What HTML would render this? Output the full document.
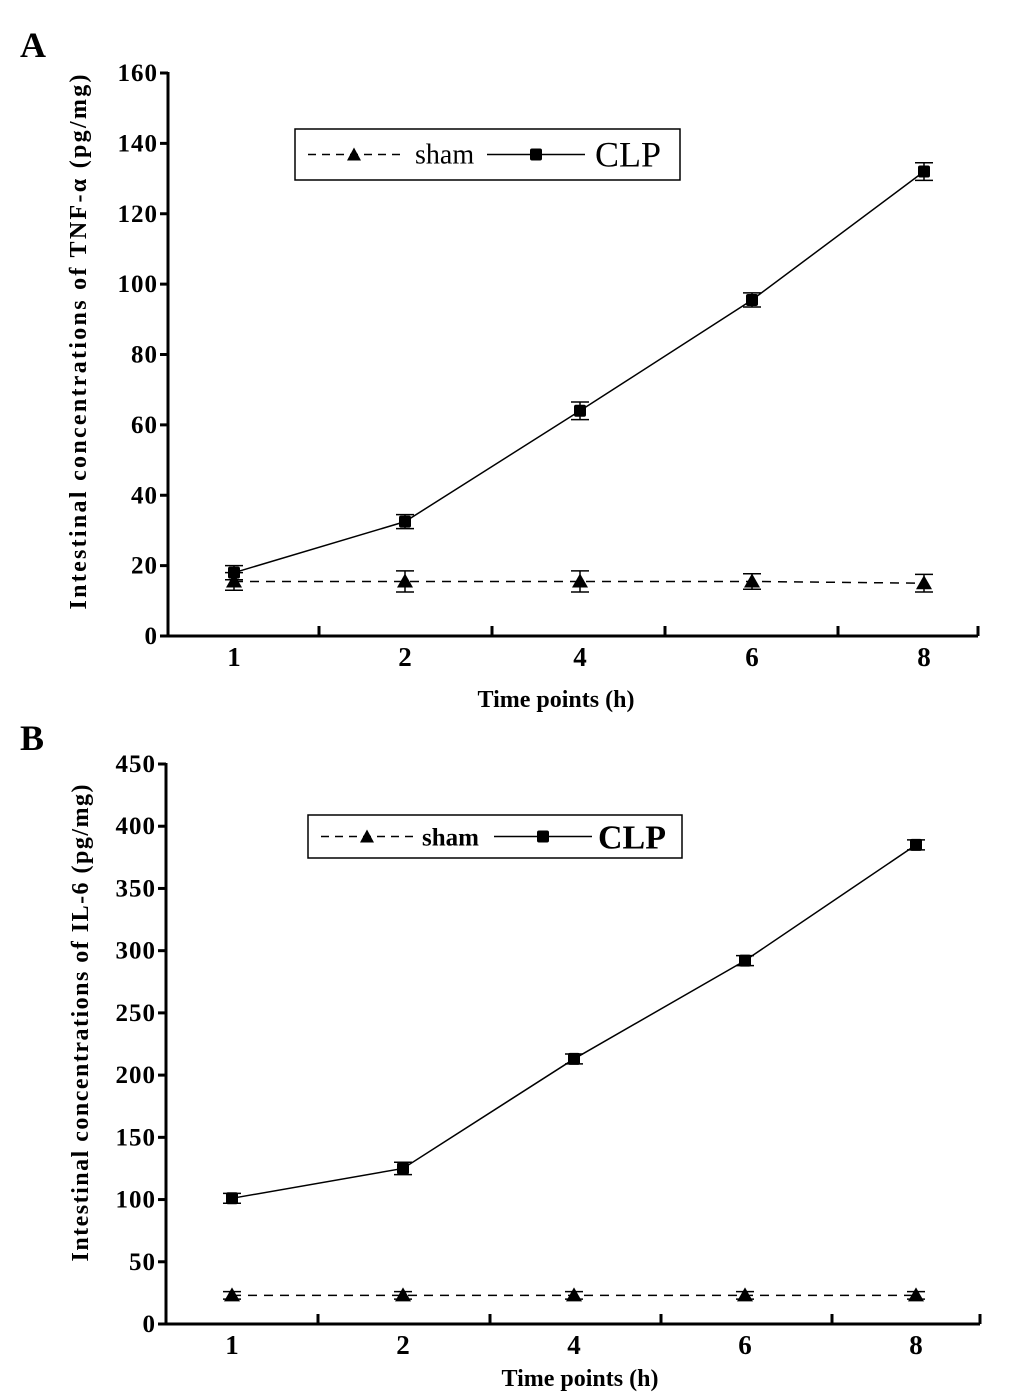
<!DOCTYPE html>
<html><head><meta charset="utf-8"><style>
html,body{margin:0;padding:0;background:#fff;}
svg{display:block;font-family:"Liberation Serif",serif;}
</style></head><body>
<svg id="chart" width="1033" height="1392" viewBox="0 0 1033 1392" xmlns="http://www.w3.org/2000/svg"></svg>
<script>
const categories = ["1","2","4","6","8"];
const tnfClp = [18, 32.5, 64, 95.5, 132];
const tnfClpErr = [2, 2, 2.5, 2, 2.5];
const tnfSham = [15.5, 15.5, 15.5, 15.5, 15];
const tnfShamErr = [2.5, 3, 3, 2.2, 2.5];
const tnfTicks = [0,20,40,60,80,100,120,140,160];
const il6Clp = [101, 125, 213, 292, 385];
const il6ClpErr = [4, 5, 4, 4, 4];
const il6Sham = [23, 23, 23, 23, 23];
const il6ShamErr = [3, 3, 3, 3, 3];
const il6Ticks = [0,50,100,150,200,250,300,350,400,450];

const svg = document.getElementById('chart');
const NS = 'http://www.w3.org/2000/svg';
function mk(tag, attrs, parent){const e=document.createElementNS(NS,tag);for(const k in attrs)e.setAttribute(k,attrs[k]);(parent||svg).appendChild(e);return e;}

function panel(p){
  const g = mk('g',{});
  
  
  const y = v => p.y0 - (v - p.ticks[0])/(p.ticks[p.ticks.length-1]-p.ticks[0])*(p.y0-p.y1);
  const x = i => p.xs[i];
  const L = mk('text',{x:p.letterX,y:p.letterY,'font-size':36,'font-weight':'bold'},g); L.textContent=p.letter;
   
  const ya = mk('line',{x1:p.ax,y1:p.y1-1,x2:p.ax,y2:p.y0+1,stroke:'#000','stroke-width':3},g);
   
  const xa = mk('line',{x1:p.ax-1,y1:p.y0,x2:p.xEnd,y2:p.y0,stroke:'#000','stroke-width':3},g);
   
  p.ticks.forEach(t=>{
    mk('line',{x1:p.ax-8,y1:y(t),x2:p.ax,y2:y(t),stroke:'#000','stroke-width':3},g);
    const tl = mk('text',{x:p.ax-10,y:y(t)+8,'font-size':25,'font-weight':'bold','text-anchor':'end','letter-spacing':1},g);
    tl.textContent=t;
     
  });
  p.xTicks.forEach(tx=>mk('line',{x1:tx,y1:p.y0,x2:tx,y2:p.y0-10,stroke:'#000','stroke-width':3},g));
  categories.forEach((c,i)=>{
    const t = mk('text',{x:x(i),y:p.y0+30,'font-size':27,'font-weight':'bold','text-anchor':'middle'},g);
    t.textContent=c;
     
  });
  const xt = mk('text',{x:p.xTitleX,y:p.y0+p.xTitleDy,'font-size':24,'font-weight':'bold','text-anchor':'middle'},g);
  xt.textContent='Time points (h)';
   
  const yt = mk('text',{x:0,y:0,'font-size':24,'font-weight':'bold','text-anchor':'middle',textLength:p.yTitleLen,lengthAdjust:'spacing',transform:`translate(${p.yTitleX},${p.yTitleCY}) rotate(-90)`},g);
  yt.textContent=p.yTitle;
   
  function series(vals, errs, dashed, marker, name){
    const pts = vals.map((v,i)=>`${x(i)},${y(v)}`).join(' ');
    const ln = mk('polyline',{points:pts,fill:'none',stroke:'#000','stroke-width':1.5,'stroke-dasharray':dashed?'9 7':'none'},g);
     
    vals.forEach((v,i)=>{
      const e=errs[i], cx=x(i);
      mk('line',{x1:cx,y1:y(v+e),x2:cx,y2:y(v-e),stroke:'#000','stroke-width':1.5},g);
      mk('line',{x1:cx-9,y1:y(v+e),x2:cx+9,y2:y(v+e),stroke:'#000','stroke-width':1.5},g);
      mk('line',{x1:cx-9,y1:y(v-e),x2:cx+9,y2:y(v-e),stroke:'#000','stroke-width':1.5},g);
      let m;
      if(marker==='tri') m=mk('polygon',{points:`${cx},${y(v)-8} ${cx-8},${y(v)+6} ${cx+8},${y(v)+6}`,fill:'#000'},g);
      else m=mk('rect',{x:cx-6,y:y(v)-6,width:12,height:12,rx:2,fill:'#000'},g);
       
    });
  }
  series(p.sham,p.shamErr,true,'tri','sham');
  series(p.clp,p.clpErr,false,'sq','clp');
  const lg = mk('g',{},g);
   
  const b=p.leg;
  mk('rect',{x:b.x,y:b.y,width:b.w,height:b.h,fill:'#fff',stroke:'#000','stroke-width':1.5},lg);
  const cy=b.y+b.h/2;
  mk('line',{x1:b.x+13,y1:cy,x2:b.x+107,y2:cy,stroke:'#000','stroke-width':1.5,'stroke-dasharray':'8 6'},lg);
  mk('polygon',{points:`${b.x+59},${cy-7} ${b.x+52},${cy+6} ${b.x+66},${cy+6}`,fill:'#000'},lg);
  const s=mk('text',{x:b.x+b.shamX,y:cy+9,'font-size':b.shamSize,'font-weight':b.bold?'bold':'normal'},lg); s.textContent='sham';
   
  mk('line',{x1:b.x+b.clpL1,y1:cy,x2:b.x+b.clpL2,y2:cy,stroke:'#000','stroke-width':1.5},lg);
  mk('rect',{x:b.x+(b.clpL1+b.clpL2)/2-6,y:cy-6,width:12,height:12,rx:2,fill:'#000'},lg);
  const c=mk('text',{x:b.x+b.clpX,y:cy+12,'font-size':b.clpSize,'font-weight':b.bold?'bold':'normal'},lg); c.textContent='CLP';
   
}

panel({id:'tnf',letter:'A',letterX:20,letterY:57,ax:168,y0:636,y1:73,xEnd:978,
  xs:[234,405,580,752,924],xTicks:[319,492,665,838,978],ticks:tnfTicks,
  clp:tnfClp,clpErr:tnfClpErr,sham:tnfSham,shamErr:tnfShamErr,
  xTitleX:556,xTitleDy:71,yTitleX:86,yTitleCY:342,yTitleLen:535,yTitle:'Intestinal concentrations of TNF-\u03b1 (pg/mg)',
  leg:{x:295,y:129,w:385,h:51,shamX:120,shamSize:28,clpL1:192,clpL2:290,clpX:300,clpSize:36,bold:false}});
panel({id:'il6',letter:'B',letterX:20,letterY:750,ax:166,y0:1324,y1:764,xEnd:980,
  xs:[232,403,574,745,916],xTicks:[318,490,661,832,980],ticks:il6Ticks,
  clp:il6Clp,clpErr:il6ClpErr,sham:il6Sham,shamErr:il6ShamErr,
  xTitleX:580,xTitleDy:62,yTitleX:88,yTitleCY:1023,yTitleLen:477,yTitle:'Intestinal concentrations of IL-6 (pg/mg)',
  leg:{x:308,y:815,w:374,h:43,shamX:114,shamSize:25,clpL1:186,clpL2:284,clpX:290,clpSize:34,bold:true}});
</script>
</body></html>
